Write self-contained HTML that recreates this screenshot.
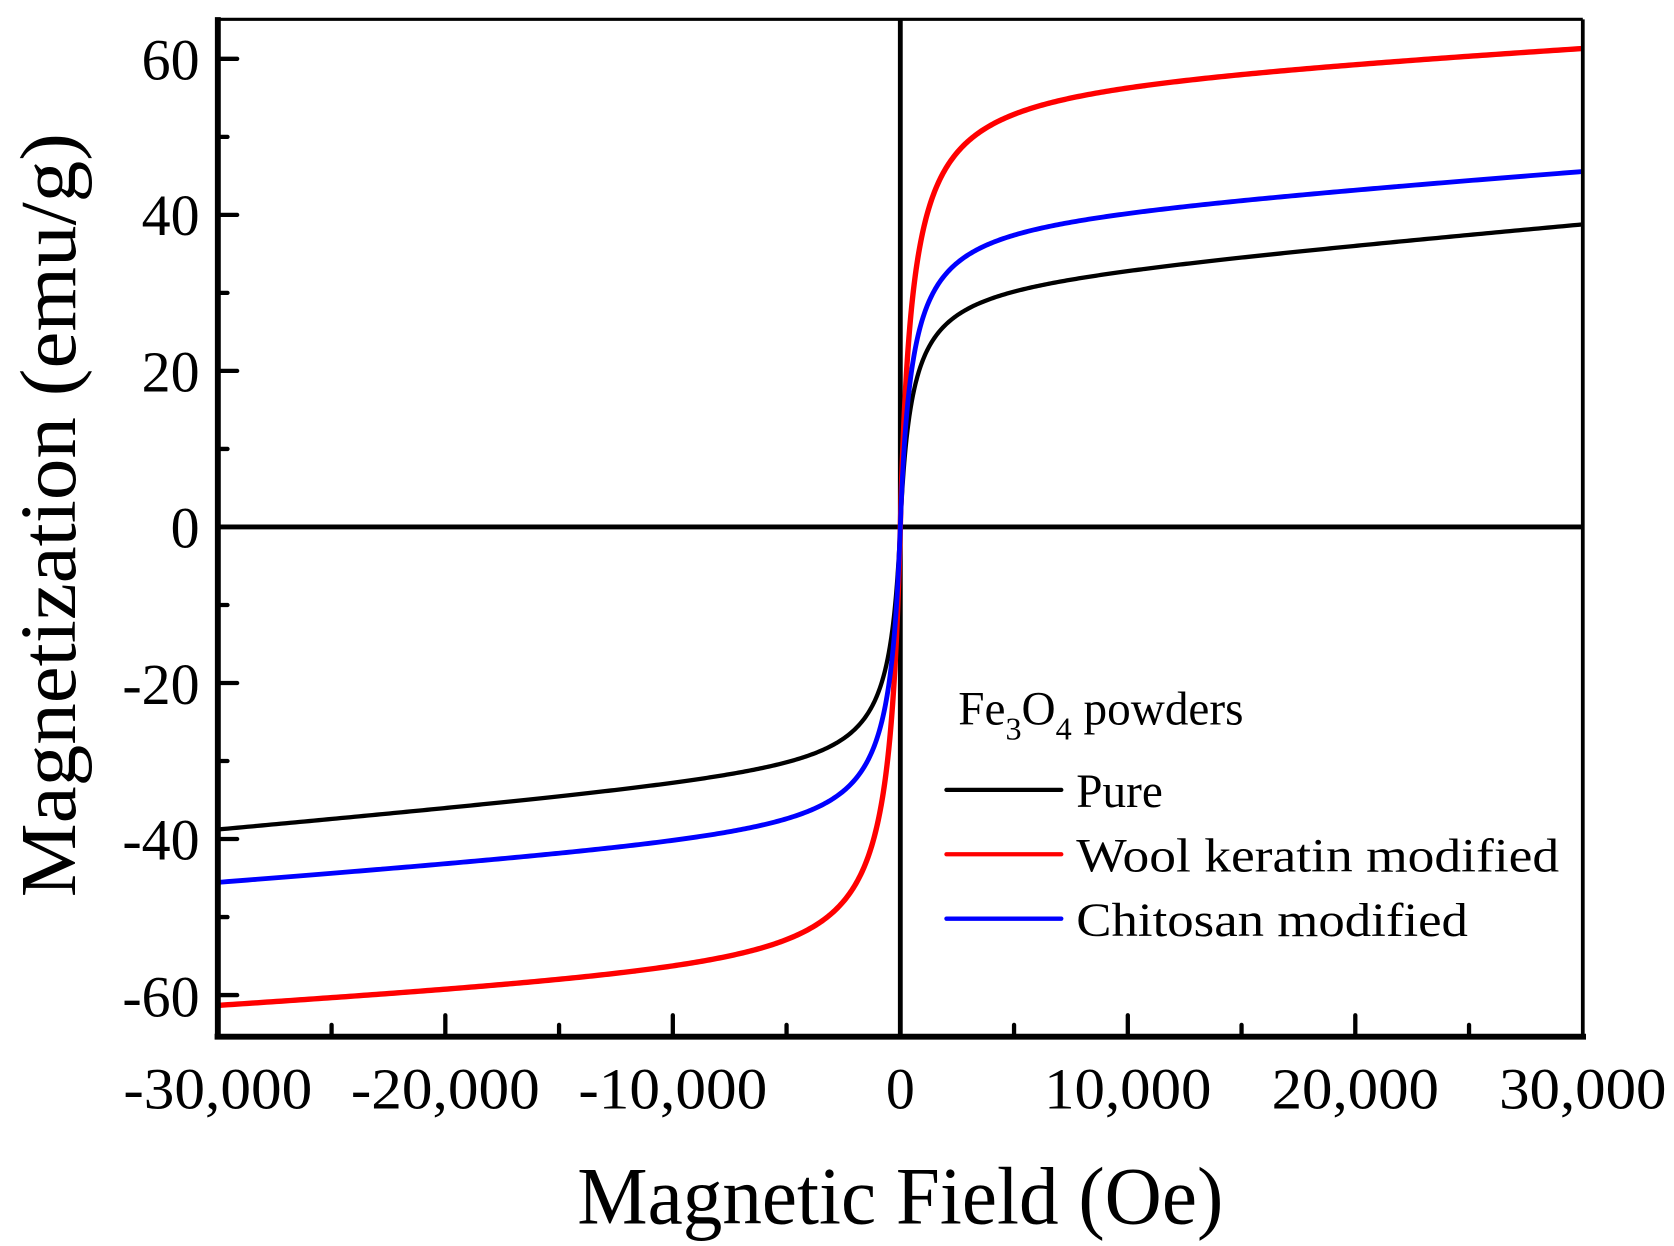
<!DOCTYPE html>
<html><head><meta charset="utf-8"><style>
html,body{margin:0;padding:0;background:#fff;}
svg{display:block;}
text{font-family:"Liberation Serif",serif;fill:#000;}
</style></head><body>
<svg id="s" width="1674" height="1246" viewBox="0 0 1560 1161" preserveAspectRatio="none" xmlns="http://www.w3.org/2000/svg">
<rect width="1560" height="1161" fill="#fff"/>
<line x1="203" y1="491" x2="1475" y2="491" stroke="#000" stroke-width="4.5"/>
<line x1="839" y1="18" x2="839" y2="966" stroke="#000" stroke-width="4.5"/>
<g id="ticks" stroke="#000" stroke-width="4" stroke-linecap="round"></g>
<g id="curves" fill="none" stroke-width="4" stroke-linejoin="round"></g>
<line x1="203" y1="18" x2="1475" y2="18" stroke="#000" stroke-width="3"/>
<line x1="1475" y1="18" x2="1475" y2="966" stroke="#000" stroke-width="3.5"/>
<line x1="203" y1="16" x2="203" y2="968" stroke="#000" stroke-width="5.5"/>
<line x1="200" y1="966" x2="1478" y2="966" stroke="#000" stroke-width="5.5"/>
<g font-size="54" text-anchor="end">
<text x="186" y="74">60</text>
<text x="186" y="219">40</text>
<text x="186" y="365">20</text>
<text x="186" y="510">0</text>
<text x="186" y="656">-20</text>
<text x="186" y="801">-40</text>
<text x="186" y="947">-60</text>
</g>
<g font-size="54" text-anchor="middle">
<text x="203" y="1033" textLength="176" lengthAdjust="spacingAndGlyphs">-30,000</text>
<text x="415" y="1033" textLength="176" lengthAdjust="spacingAndGlyphs">-20,000</text>
<text x="627" y="1033" textLength="176" lengthAdjust="spacingAndGlyphs">-10,000</text>
<text x="839" y="1033">0</text>
<text x="1051" y="1033" textLength="156" lengthAdjust="spacingAndGlyphs">10,000</text>
<text x="1263" y="1033" textLength="156" lengthAdjust="spacingAndGlyphs">20,000</text>
<text x="1475" y="1033" textLength="156" lengthAdjust="spacingAndGlyphs">30,000</text>
</g>
<text x="839" y="1140" font-size="76" text-anchor="middle" textLength="602" lengthAdjust="spacingAndGlyphs">Magnetic Field (Oe)</text>
<text transform="translate(70,480) rotate(-90)" font-size="74" text-anchor="middle" textLength="712" lengthAdjust="spacingAndGlyphs">Magnetization (emu/g)</text>
<text x="893" y="675" font-size="44">Fe<tspan font-size="30" dy="14">3</tspan><tspan dy="-14">O</tspan><tspan font-size="30" dy="14">4</tspan><tspan dy="-14"> powders</tspan></text>
<line x1="882" y1="736" x2="989" y2="736" stroke="#000" stroke-width="4" stroke-linecap="round"/>
<line x1="882" y1="796" x2="989" y2="796" stroke="#f00" stroke-width="4" stroke-linecap="round"/>
<line x1="882" y1="856" x2="989" y2="856" stroke="#00f" stroke-width="4" stroke-linecap="round"/>
<text x="1003" y="752" font-size="44">Pure</text>
<text x="1003" y="812" font-size="44" textLength="450" lengthAdjust="spacingAndGlyphs">Wool keratin modified</text>
<text x="1003" y="872" font-size="44" textLength="365" lengthAdjust="spacingAndGlyphs">Chitosan modified</text>
</svg>
<script>
(function(){
var NS="http://www.w3.org/2000/svg";
function X(h){return 839+h*1272/60000;}
function Y(m){return 491-m*7.27;}
var t=document.getElementById('ticks');
function ln(x1,y1,x2,y2){var l=document.createElementNS(NS,'line');l.setAttribute('x1',x1);l.setAttribute('y1',y1);l.setAttribute('x2',x2);l.setAttribute('y2',y2);t.appendChild(l);}
for(var h=-25000;h<=25000;h+=5000){var x=X(h);var len=(h%10000===0)?20:11;ln(x,966,x,966-len);}
for(var m=-60;m<=60;m+=10){if(m===0)continue;var y=Y(m);var len=(m%20===0)?18:9;ln(203,y,203+len,y);}
var c=document.getElementById('curves');
function curve(Ms,h0,chi,col,w){
  var d="";
  for(var i=0;i<=600;i++){
    var u=-1+2*i/600;
    var h=30000*Math.sign(u)*Math.pow(Math.abs(u),2.2);
    var m=Ms*h/(Math.abs(h)+h0)+chi*h;
    d+=(i?"L":"M")+X(h).toFixed(2)+" "+Y(m).toFixed(2);
  }
  var p=document.createElementNS(NS,'path');p.setAttribute('d',d);p.setAttribute('stroke',col);p.setAttribute('stroke-width',w);c.appendChild(p);
}
curve(31.8,500,0.00025,'#000',4);
curve(57.5,520,0.00016,'#f00',5);
curve(40,500,0.000207,'#00f',4.5);
})();
</script>
</body></html>
